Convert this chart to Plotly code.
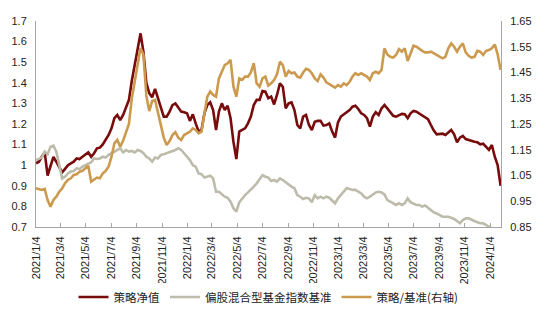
import pandas as pd
import plotly.graph_objects as go

# Weekly observations, first trading week of 2021 onward
dates = pd.date_range("2021-01-04", periods=161, freq="7D")

strategy_nav = [
    1.009, 1.017, 1.041, 1.062, 0.950, 1.000, 1.040, 1.017, 0.993, 0.965,
    0.982, 1.000, 1.009, 1.017, 1.033, 1.030, 1.041, 1.053, 1.062, 1.041,
    1.058, 1.082, 1.085, 1.101, 1.122, 1.147, 1.179, 1.228, 1.244, 1.219,
    1.244, 1.284, 1.317, 1.410, 1.490, 1.570, 1.640, 1.550, 1.400, 1.350,
    1.330, 1.370, 1.325, 1.292, 1.236, 1.236, 1.260, 1.292, 1.300, 1.280,
    1.260, 1.257, 1.252, 1.215, 1.247, 1.203, 1.163, 1.171, 1.252, 1.292,
    1.305, 1.268, 1.171, 1.260, 1.300, 1.268, 1.289, 1.228, 1.114, 1.030,
    1.163, 1.171, 1.179, 1.203, 1.236, 1.292, 1.317, 1.317, 1.360, 1.357,
    1.325, 1.333, 1.295, 1.341, 1.397, 1.381, 1.276, 1.300, 1.305, 1.268,
    1.195, 1.179, 1.236, 1.244, 1.195, 1.171, 1.211, 1.215, 1.215, 1.192,
    1.195, 1.203, 1.163, 1.134, 1.208, 1.236, 1.247, 1.260, 1.268, 1.284,
    1.289, 1.273, 1.252, 1.244, 1.228, 1.187, 1.236, 1.257, 1.244,
    1.276, 1.292, 1.276, 1.257, 1.240, 1.236, 1.244, 1.249, 1.247, 1.228,
    1.252, 1.263, 1.260, 1.252, 1.244, 1.236, 1.224, 1.195, 1.168, 1.150,
    1.152, 1.153, 1.147, 1.160, 1.171, 1.150, 1.111, 1.134, 1.142, 1.127,
    1.122, 1.117, 1.114, 1.111, 1.101, 1.104, 1.090, 1.074, 1.098, 1.041,
    1.000, 0.900,
]

fund_index = [
    1.025, 1.033, 1.037, 1.066, 1.053, 1.090, 1.095, 1.066, 0.993, 0.936,
    0.944, 0.960, 0.969, 0.972, 0.985, 0.982, 0.993, 1.000, 1.009, 1.014,
    1.033, 1.030, 1.033, 1.041, 1.037, 1.050, 1.058, 1.066, 1.074, 1.082,
    1.062, 1.074, 1.066, 1.069, 1.062, 1.074, 1.069, 1.058, 1.041, 1.033,
    1.017, 1.037, 1.033, 1.050, 1.053, 1.058, 1.066, 1.069, 1.074, 1.082,
    1.074, 1.058, 1.041, 1.025, 1.000, 0.993, 0.960, 0.956, 0.940, 0.944,
    0.949, 0.936, 0.871, 0.871, 0.858, 0.847, 0.842, 0.823, 0.791, 0.775,
    0.820, 0.839, 0.855, 0.868, 0.880, 0.896, 0.912, 0.933, 0.952, 0.944,
    0.940, 0.923, 0.928, 0.920, 0.936, 0.928, 0.917, 0.904, 0.896, 0.888,
    0.855, 0.847, 0.836, 0.842, 0.839, 0.820, 0.855, 0.839, 0.847, 0.839,
    0.847, 0.842, 0.826, 0.815, 0.839, 0.855, 0.876, 0.888, 0.884, 0.880,
    0.880, 0.871, 0.863, 0.847, 0.839, 0.847, 0.858, 0.868, 0.871,
    0.868, 0.858, 0.831, 0.823, 0.815, 0.807, 0.815, 0.807, 0.815, 0.839,
    0.820, 0.815, 0.807, 0.807, 0.799, 0.804, 0.794, 0.783, 0.771, 0.766,
    0.758, 0.750, 0.750, 0.750, 0.745, 0.739, 0.729, 0.718, 0.734, 0.742,
    0.742, 0.737, 0.729, 0.723, 0.718, 0.718, 0.710, 0.705, 0.694, 0.685,
    0.675, 0.665,
]

relative_ratio = [
    1.000, 0.998, 0.994, 0.998, 0.955, 0.929, 0.955, 0.968, 0.987, 1.000,
    1.020, 1.033, 1.039, 1.052, 1.055, 1.065, 1.068, 1.078, 1.088, 1.026,
    1.033, 1.042, 1.039, 1.058, 1.068, 1.084, 1.123, 1.175, 1.188, 1.162,
    1.185, 1.215, 1.250, 1.350, 1.420, 1.480, 1.545, 1.520, 1.360, 1.300,
    1.339, 1.343, 1.291, 1.246, 1.197, 1.168, 1.184, 1.207, 1.218, 1.197,
    1.188, 1.207, 1.214, 1.220, 1.233, 1.227, 1.214, 1.220, 1.291, 1.356,
    1.376, 1.363, 1.356, 1.427, 1.453, 1.479, 1.486, 1.499, 1.395, 1.356,
    1.427, 1.421, 1.434, 1.434, 1.450, 1.486, 1.408, 1.395, 1.427, 1.434,
    1.399, 1.408, 1.421, 1.443, 1.492, 1.479, 1.434, 1.456, 1.447, 1.450,
    1.434, 1.430, 1.450, 1.464, 1.460, 1.447, 1.427, 1.417, 1.443, 1.430,
    1.412, 1.404, 1.399, 1.391, 1.401, 1.395, 1.408, 1.401, 1.414, 1.434,
    1.447, 1.440, 1.447, 1.440, 1.434, 1.421, 1.447, 1.453, 1.447,
    1.460, 1.544, 1.520, 1.511, 1.508, 1.518, 1.541, 1.531, 1.544, 1.495,
    1.524, 1.554, 1.550, 1.541, 1.534, 1.528, 1.528, 1.531, 1.524, 1.518,
    1.511, 1.505, 1.511, 1.544, 1.563, 1.550, 1.531, 1.550, 1.563, 1.528,
    1.515, 1.508, 1.511, 1.534, 1.531, 1.518, 1.534, 1.537, 1.544, 1.559,
    1.520, 1.460,
]

tick_labels = [
    "2021/1/4", "2021/3/4", "2021/5/4", "2021/7/4", "2021/9/4", "2021/11/4",
    "2022/1/4", "2022/3/4", "2022/5/4", "2022/7/4", "2022/9/4", "2022/11/4",
    "2023/1/4", "2023/3/4", "2023/5/4", "2023/7/4", "2023/9/4", "2023/11/4",
    "2024/1/4",
]
tick_vals = [pd.to_datetime(t, format="%Y/%m/%d") for t in tick_labels]

names = ["策略净值", "偏股混合型基金指数基准", "策略/基准(右轴)"]
colors = ["#780b0b", "#bdbcab", "#cc9a4f"]

fig = go.Figure()
fig.add_trace(go.Scatter(x=dates, y=strategy_nav, name=names[0], mode="lines",
                         line=dict(color=colors[0], width=2.6)))
fig.add_trace(go.Scatter(x=dates, y=fund_index, name=names[1], mode="lines",
                         line=dict(color=colors[1], width=2.6)))
fig.add_trace(go.Scatter(x=dates, y=relative_ratio, name=names[2], mode="lines",
                         line=dict(color=colors[2], width=2.6), yaxis="y2"))

axis_font = dict(family="Liberation Sans, Arial, sans-serif", size=11, color="#222222")
line_col = "#a6a6a6"

fig.update_layout(
    width=550, height=327,
    margin=dict(l=36, r=49, t=21, b=100),
    paper_bgcolor="white", plot_bgcolor="white",
    showlegend=True,
    legend=dict(orientation="h", x=0.5, xanchor="center", y=-0.34, yanchor="middle",
                font=dict(family="Noto Sans CJK SC", size=11.5, color="#222222"),
                itemwidth=30, tracegroupgap=0),
    xaxis=dict(type="date", range=["2021-01-04", "2024-01-30"],
               tickvals=tick_vals, ticktext=tick_labels, tickangle=-90,
               ticks="inside", ticklen=4, tickcolor=line_col,
               showline=True, linecolor=line_col, linewidth=1,
               showgrid=False, zeroline=False, tickfont=axis_font,
               ticklabelstandoff=4),
    yaxis=dict(range=[0.7, 1.7], dtick=0.1, tick0=0.7, showgrid=False,
               showline=True, linecolor=line_col, linewidth=1, ticks="",
               zeroline=False, tickfont=axis_font, ticklabelstandoff=6),
    yaxis2=dict(range=[0.85, 1.65], dtick=0.1, tick0=0.85, overlaying="y",
                side="right", showgrid=False, showline=True, linecolor=line_col,
                linewidth=1, ticks="", zeroline=False, tickfont=axis_font,
                ticklabelstandoff=6),
)

fig.write_html("out.html")
